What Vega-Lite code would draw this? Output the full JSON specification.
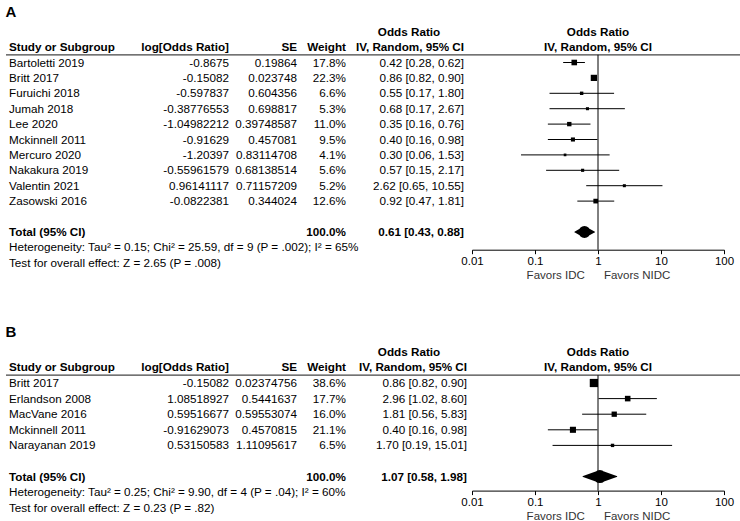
{
  "$schema": "https://vega.github.io/schema/vega-lite/v6.json",
  "config": {
    "font": "Liberation Sans",
    "view": {"stroke": null},
    "text": {"fontSize": 11.7, "baseline": "middle", "color": "black"},
    "title": {"anchor": "start", "fontSize": 15, "fontWeight": "bold", "color": "black", "offset": 4}
  },
  "datasets": {
    "A": [
      {"row": "h1", "kind": "header", "ci": "Odds Ratio"},
      {"row": "h2", "kind": "header", "study": "Study or Subgroup", "logor": "log[Odds Ratio]", "se": "SE", "weight": "Weight", "ci": "IV, Random, 95% CI"},
      {"row": "s1", "kind": "study", "study": "Bartoletti 2019", "logor": "-0.8675", "se": "0.19864", "weight": "17.8%", "ci": "0.42 [0.28, 0.62]", "or": 0.42, "lo": 0.28, "hi": 0.62, "w": 17.8},
      {"row": "s2", "kind": "study", "study": "Britt 2017", "logor": "-0.15082", "se": "0.023748", "weight": "22.3%", "ci": "0.86 [0.82, 0.90]", "or": 0.86, "lo": 0.82, "hi": 0.90, "w": 22.3},
      {"row": "s3", "kind": "study", "study": "Furuichi 2018", "logor": "-0.597837", "se": "0.604356", "weight": "6.6%", "ci": "0.55 [0.17, 1.80]", "or": 0.55, "lo": 0.17, "hi": 1.80, "w": 6.6},
      {"row": "s4", "kind": "study", "study": "Jumah 2018", "logor": "-0.38776553", "se": "0.698817", "weight": "5.3%", "ci": "0.68 [0.17, 2.67]", "or": 0.68, "lo": 0.17, "hi": 2.67, "w": 5.3},
      {"row": "s5", "kind": "study", "study": "Lee 2020", "logor": "-1.04982212", "se": "0.39748587", "weight": "11.0%", "ci": "0.35 [0.16, 0.76]", "or": 0.35, "lo": 0.16, "hi": 0.76, "w": 11.0},
      {"row": "s6", "kind": "study", "study": "Mckinnell 2011", "logor": "-0.91629", "se": "0.457081", "weight": "9.5%", "ci": "0.40 [0.16, 0.98]", "or": 0.40, "lo": 0.16, "hi": 0.98, "w": 9.5},
      {"row": "s7", "kind": "study", "study": "Mercuro 2020", "logor": "-1.20397", "se": "0.83114708", "weight": "4.1%", "ci": "0.30 [0.06, 1.53]", "or": 0.30, "lo": 0.06, "hi": 1.53, "w": 4.1},
      {"row": "s8", "kind": "study", "study": "Nakakura 2019", "logor": "-0.55961579", "se": "0.68138514", "weight": "5.6%", "ci": "0.57 [0.15, 2.17]", "or": 0.57, "lo": 0.15, "hi": 2.17, "w": 5.6},
      {"row": "s9", "kind": "study", "study": "Valentin 2021", "logor": "0.96141117", "se": "0.71157209", "weight": "5.2%", "ci": "2.62 [0.65, 10.55]", "or": 2.62, "lo": 0.65, "hi": 10.55, "w": 5.2},
      {"row": "s10", "kind": "study", "study": "Zasowski 2016", "logor": "-0.0822381", "se": "0.344024", "weight": "12.6%", "ci": "0.92 [0.47, 1.81]", "or": 0.92, "lo": 0.47, "hi": 1.81, "w": 12.6},
      {"row": "total", "kind": "total", "study": "Total (95% CI)", "weight": "100.0%", "ci": "0.61 [0.43, 0.88]", "or": 0.61, "lo": 0.43, "hi": 0.88},
      {"row": "het", "kind": "note", "study": "Heterogeneity: Tau² = 0.15; Chi² = 25.59, df = 9 (P = .002); I² = 65%"},
      {"row": "test", "kind": "note", "study": "Test for overall effect: Z = 2.65 (P = .008)"}
    ],
    "B": [
      {"row": "h1", "kind": "header", "ci": "Odds Ratio"},
      {"row": "h2", "kind": "header", "study": "Study or Subgroup", "logor": "log[Odds Ratio]", "se": "SE", "weight": "Weight", "ci": "IV, Random, 95% CI"},
      {"row": "s1", "kind": "study", "study": "Britt 2017", "logor": "-0.15082", "se": "0.02374756", "weight": "38.6%", "ci": "0.86 [0.82, 0.90]", "or": 0.86, "lo": 0.82, "hi": 0.90, "w": 38.6},
      {"row": "s2", "kind": "study", "study": "Erlandson 2008", "logor": "1.08518927", "se": "0.5441637", "weight": "17.7%", "ci": "2.96 [1.02, 8.60]", "or": 2.96, "lo": 1.02, "hi": 8.60, "w": 17.7},
      {"row": "s3", "kind": "study", "study": "MacVane 2016", "logor": "0.59516677", "se": "0.59553074", "weight": "16.0%", "ci": "1.81 [0.56, 5.83]", "or": 1.81, "lo": 0.56, "hi": 5.83, "w": 16.0},
      {"row": "s4", "kind": "study", "study": "Mckinnell 2011", "logor": "-0.91629073", "se": "0.4570815", "weight": "21.1%", "ci": "0.40 [0.16, 0.98]", "or": 0.40, "lo": 0.16, "hi": 0.98, "w": 21.1},
      {"row": "s5", "kind": "study", "study": "Narayanan 2019", "logor": "0.53150583", "se": "1.11095617", "weight": "6.5%", "ci": "1.70 [0.19, 15.01]", "or": 1.70, "lo": 0.19, "hi": 15.01, "w": 6.5},
      {"row": "total", "kind": "total", "study": "Total (95% CI)", "weight": "100.0%", "ci": "1.07 [0.58, 1.98]", "or": 1.07, "lo": 0.58, "hi": 1.98},
      {"row": "het", "kind": "note", "study": "Heterogeneity: Tau² = 0.25; Chi² = 9.90, df = 4 (P = .04); I² = 60%"},
      {"row": "test", "kind": "note", "study": "Test for overall effect: Z = 0.23 (P = .82)"}
    ]
  },
  "spacing": 44,
  "vconcat": [
    {
      "title": "A",
      "spacing": 0,
      "bounds": "flush",
      "hconcat": [
        {
          "width": 145, "height": {"step": 15.4}, "data": {"name": "A"},
          "encoding": {"y": {"field": "row", "type": "nominal", "scale": {"domain": ["h1","h2","s1","s2","s3","s4","s5","s6","s7","s8","s9","s10","gap","total","het","test"]}, "axis": null}},
          "layer": [
            {"data": {"values": [{}]}, "mark": {"type": "rule", "color": "#444", "strokeWidth": 1.2, "yOffset": 7.7}, "encoding": {"y": {"datum": "h2"}}},
            {"transform": [{"filter": "isValid(datum.study) && datum.kind!='header' && datum.kind!='total'"}], "mark": {"type": "text", "align": "left", "dx": 3},
             "encoding": {"x": {"value": 0}, "text": {"field": "study"}}},
            {"transform": [{"filter": "isValid(datum.study) && (datum.kind=='header' || datum.kind=='total')"}], "mark": {"type": "text", "align": "left", "dx": 3, "fontWeight": "bold"},
             "encoding": {"x": {"value": 0}, "text": {"field": "study"}}}
          ]
        },
        {
          "width": 78, "height": {"step": 15.4}, "data": {"name": "A"},
          "encoding": {"y": {"field": "row", "type": "nominal", "scale": {"domain": ["h1","h2","s1","s2","s3","s4","s5","s6","s7","s8","s9","s10","gap","total","het","test"]}, "axis": null}},
          "layer": [
            {"data": {"values": [{}]}, "mark": {"type": "rule", "color": "#444", "strokeWidth": 1.2, "yOffset": 7.7}, "encoding": {"y": {"datum": "h2"}}},
            {"transform": [{"filter": "isValid(datum.logor) && datum.kind!='header' && datum.kind!='total'"}], "mark": {"type": "text", "align": "right"},
             "encoding": {"x": {"value": "width"}, "text": {"field": "logor"}}},
            {"transform": [{"filter": "isValid(datum.logor) && (datum.kind=='header' || datum.kind=='total')"}], "mark": {"type": "text", "align": "right", "fontWeight": "bold"},
             "encoding": {"x": {"value": "width"}, "text": {"field": "logor"}}}
          ]
        },
        {
          "width": 68, "height": {"step": 15.4}, "data": {"name": "A"},
          "encoding": {"y": {"field": "row", "type": "nominal", "scale": {"domain": ["h1","h2","s1","s2","s3","s4","s5","s6","s7","s8","s9","s10","gap","total","het","test"]}, "axis": null}},
          "layer": [
            {"data": {"values": [{}]}, "mark": {"type": "rule", "color": "#444", "strokeWidth": 1.2, "yOffset": 7.7}, "encoding": {"y": {"datum": "h2"}}},
            {"transform": [{"filter": "isValid(datum.se) && datum.kind!='header' && datum.kind!='total'"}], "mark": {"type": "text", "align": "right"},
             "encoding": {"x": {"value": "width"}, "text": {"field": "se"}}},
            {"transform": [{"filter": "isValid(datum.se) && (datum.kind=='header' || datum.kind=='total')"}], "mark": {"type": "text", "align": "right", "fontWeight": "bold"},
             "encoding": {"x": {"value": "width"}, "text": {"field": "se"}}}
          ]
        },
        {
          "width": 49, "height": {"step": 15.4}, "data": {"name": "A"},
          "encoding": {"y": {"field": "row", "type": "nominal", "scale": {"domain": ["h1","h2","s1","s2","s3","s4","s5","s6","s7","s8","s9","s10","gap","total","het","test"]}, "axis": null}},
          "layer": [
            {"data": {"values": [{}]}, "mark": {"type": "rule", "color": "#444", "strokeWidth": 1.2, "yOffset": 7.7}, "encoding": {"y": {"datum": "h2"}}},
            {"transform": [{"filter": "isValid(datum.weight) && datum.kind!='header' && datum.kind!='total'"}], "mark": {"type": "text", "align": "right"},
             "encoding": {"x": {"value": "width"}, "text": {"field": "weight"}}},
            {"transform": [{"filter": "isValid(datum.weight) && (datum.kind=='header' || datum.kind=='total')"}], "mark": {"type": "text", "align": "right", "fontWeight": "bold"},
             "encoding": {"x": {"value": "width"}, "text": {"field": "weight"}}}
          ]
        },
        {
          "width": 126, "height": {"step": 15.4}, "data": {"name": "A"},
          "encoding": {"y": {"field": "row", "type": "nominal", "scale": {"domain": ["h1","h2","s1","s2","s3","s4","s5","s6","s7","s8","s9","s10","gap","total","het","test"]}, "axis": null}},
          "layer": [
            {"data": {"values": [{}]}, "mark": {"type": "rule", "color": "#444", "strokeWidth": 1.2, "yOffset": 7.7}, "encoding": {"y": {"datum": "h2"}}},
            {"transform": [{"filter": "datum.row=='h1'"}], "mark": {"type": "text", "align": "center", "fontWeight": "bold"},
             "encoding": {"text": {"field": "ci"}}},
            {"transform": [{"filter": "isValid(datum.ci) && datum.kind=='study'"}], "mark": {"type": "text", "align": "right", "dx": -8},
             "encoding": {"x": {"value": "width"}, "text": {"field": "ci"}}},
            {"transform": [{"filter": "datum.row=='h2' || datum.kind=='total'"}], "mark": {"type": "text", "align": "right", "dx": -8, "fontWeight": "bold"},
             "encoding": {"x": {"value": "width"}, "text": {"field": "ci"}}}
          ]
        },
        {
          "width": 252, "height": {"step": 15.4}, "data": {"name": "A"},
          "encoding": {"y": {"field": "row", "type": "nominal", "scale": {"domain": ["h1","h2","s1","s2","s3","s4","s5","s6","s7","s8","s9","s10","gap","total","het","test"]}, "axis": null}},
          "layer": [
            {"data": {"values": [{}]}, "mark": {"type": "rule", "color": "#444", "strokeWidth": 1.2, "yOffset": 7.7}, "encoding": {"y": {"datum": "h2"}, "x": {"datum": 0.01, "type": "quantitative"}, "x2": {"datum": 190}}},
            {"data": {"values": [{}]}, "mark": {"type": "rule", "color": "black", "yOffset": 7.7, "y2Offset": 2.4}, "encoding": {"x": {"datum": 1, "type": "quantitative"}, "y": {"datum": "h2"}, "y2": {"datum": "het"}}},
            {"transform": [{"filter": "datum.kind=='header'"}], "mark": {"type": "text", "align": "center", "fontWeight": "bold"},
             "encoding": {"x": {"datum": 1, "type": "quantitative"}, "text": {"field": "ci"}}},
            {"transform": [{"filter": "datum.kind=='study'"}], "mark": {"type": "rule", "color": "black"},
             "encoding": {
               "x": {"field": "lo", "type": "quantitative", "scale": {"type": "log", "domain": [0.01, 100], "nice": false},
                     "axis": {"values": [0.01, 0.1, 1, 10, 100], "format": ".2~f", "title": "Favors IDC\u00a0\u00a0\u00a0\u00a0\u00a0\u00a0Favors NIDC", "offset": -20.7, "grid": false, "domainColor": "black", "tickColor": "black", "tickSize": 4, "labelFontSize": 11.5, "labelColor": "black", "labelPadding": 2, "labelFlush": false, "titleFontSize": 11.5, "titleFontWeight": "normal", "titleColor": "#333", "titlePadding": 2}},
               "x2": {"field": "hi"}}},
            {"transform": [{"filter": "datum.kind=='study'"}], "mark": {"type": "point", "shape": "square", "filled": true, "color": "black", "opacity": 1},
             "encoding": {"x": {"field": "or", "type": "quantitative", "title": "Favors IDC\u00a0\u00a0\u00a0\u00a0\u00a0\u00a0Favors NIDC"},
               "size": {"field": "w", "type": "quantitative", "scale": {"domain": [0, 40], "range": [0, 70]}, "legend": null}}},
            {"transform": [{"filter": "datum.kind=='total'"}, {"fold": ["lo", "or", "hi"]}], "mark": {"type": "trail", "color": "black"},
             "encoding": {"x": {"field": "value", "type": "quantitative", "title": "Favors IDC\u00a0\u00a0\u00a0\u00a0\u00a0\u00a0Favors NIDC"},
               "size": {"condition": {"test": "datum.key=='or'", "value": 12}, "value": 0}}}
          ]
        }
      ]
    },
    {
      "title": "B",
      "spacing": 0,
      "bounds": "flush",
      "hconcat": [
        {
          "width": 145, "height": {"step": 15.6}, "data": {"name": "B"},
          "encoding": {"y": {"field": "row", "type": "nominal", "scale": {"domain": ["h1","h2","s1","s2","s3","s4","s5","gap","total","het","test"]}, "axis": null}},
          "layer": [
            {"data": {"values": [{}]}, "mark": {"type": "rule", "color": "#444", "strokeWidth": 1.2, "yOffset": 7.8}, "encoding": {"y": {"datum": "h2"}}},
            {"transform": [{"filter": "isValid(datum.study) && datum.kind!='header' && datum.kind!='total'"}], "mark": {"type": "text", "align": "left", "dx": 3},
             "encoding": {"x": {"value": 0}, "text": {"field": "study"}}},
            {"transform": [{"filter": "isValid(datum.study) && (datum.kind=='header' || datum.kind=='total')"}], "mark": {"type": "text", "align": "left", "dx": 3, "fontWeight": "bold"},
             "encoding": {"x": {"value": 0}, "text": {"field": "study"}}}
          ]
        },
        {
          "width": 78, "height": {"step": 15.6}, "data": {"name": "B"},
          "encoding": {"y": {"field": "row", "type": "nominal", "scale": {"domain": ["h1","h2","s1","s2","s3","s4","s5","gap","total","het","test"]}, "axis": null}},
          "layer": [
            {"data": {"values": [{}]}, "mark": {"type": "rule", "color": "#444", "strokeWidth": 1.2, "yOffset": 7.8}, "encoding": {"y": {"datum": "h2"}}},
            {"transform": [{"filter": "isValid(datum.logor) && datum.kind!='header' && datum.kind!='total'"}], "mark": {"type": "text", "align": "right"},
             "encoding": {"x": {"value": "width"}, "text": {"field": "logor"}}},
            {"transform": [{"filter": "isValid(datum.logor) && (datum.kind=='header' || datum.kind=='total')"}], "mark": {"type": "text", "align": "right", "fontWeight": "bold"},
             "encoding": {"x": {"value": "width"}, "text": {"field": "logor"}}}
          ]
        },
        {
          "width": 68, "height": {"step": 15.6}, "data": {"name": "B"},
          "encoding": {"y": {"field": "row", "type": "nominal", "scale": {"domain": ["h1","h2","s1","s2","s3","s4","s5","gap","total","het","test"]}, "axis": null}},
          "layer": [
            {"data": {"values": [{}]}, "mark": {"type": "rule", "color": "#444", "strokeWidth": 1.2, "yOffset": 7.8}, "encoding": {"y": {"datum": "h2"}}},
            {"transform": [{"filter": "isValid(datum.se) && datum.kind!='header' && datum.kind!='total'"}], "mark": {"type": "text", "align": "right"},
             "encoding": {"x": {"value": "width"}, "text": {"field": "se"}}},
            {"transform": [{"filter": "isValid(datum.se) && (datum.kind=='header' || datum.kind=='total')"}], "mark": {"type": "text", "align": "right", "fontWeight": "bold"},
             "encoding": {"x": {"value": "width"}, "text": {"field": "se"}}}
          ]
        },
        {
          "width": 49, "height": {"step": 15.6}, "data": {"name": "B"},
          "encoding": {"y": {"field": "row", "type": "nominal", "scale": {"domain": ["h1","h2","s1","s2","s3","s4","s5","gap","total","het","test"]}, "axis": null}},
          "layer": [
            {"data": {"values": [{}]}, "mark": {"type": "rule", "color": "#444", "strokeWidth": 1.2, "yOffset": 7.8}, "encoding": {"y": {"datum": "h2"}}},
            {"transform": [{"filter": "isValid(datum.weight) && datum.kind!='header' && datum.kind!='total'"}], "mark": {"type": "text", "align": "right"},
             "encoding": {"x": {"value": "width"}, "text": {"field": "weight"}}},
            {"transform": [{"filter": "isValid(datum.weight) && (datum.kind=='header' || datum.kind=='total')"}], "mark": {"type": "text", "align": "right", "fontWeight": "bold"},
             "encoding": {"x": {"value": "width"}, "text": {"field": "weight"}}}
          ]
        },
        {
          "width": 126, "height": {"step": 15.6}, "data": {"name": "B"},
          "encoding": {"y": {"field": "row", "type": "nominal", "scale": {"domain": ["h1","h2","s1","s2","s3","s4","s5","gap","total","het","test"]}, "axis": null}},
          "layer": [
            {"data": {"values": [{}]}, "mark": {"type": "rule", "color": "#444", "strokeWidth": 1.2, "yOffset": 7.8}, "encoding": {"y": {"datum": "h2"}}},
            {"transform": [{"filter": "datum.row=='h1'"}], "mark": {"type": "text", "align": "center", "fontWeight": "bold"},
             "encoding": {"text": {"field": "ci"}}},
            {"transform": [{"filter": "isValid(datum.ci) && datum.kind=='study'"}], "mark": {"type": "text", "align": "right", "dx": -5},
             "encoding": {"x": {"value": "width"}, "text": {"field": "ci"}}},
            {"transform": [{"filter": "datum.row=='h2' || datum.kind=='total'"}], "mark": {"type": "text", "align": "right", "dx": -5, "fontWeight": "bold"},
             "encoding": {"x": {"value": "width"}, "text": {"field": "ci"}}}
          ]
        },
        {
          "width": 252, "height": {"step": 15.6}, "data": {"name": "B"},
          "encoding": {"y": {"field": "row", "type": "nominal", "scale": {"domain": ["h1","h2","s1","s2","s3","s4","s5","gap","total","het","test"]}, "axis": null}},
          "layer": [
            {"data": {"values": [{}]}, "mark": {"type": "rule", "color": "#444", "strokeWidth": 1.2, "yOffset": 7.8}, "encoding": {"y": {"datum": "h2"}, "x": {"datum": 0.01, "type": "quantitative"}, "x2": {"datum": 190}}},
            {"data": {"values": [{}]}, "mark": {"type": "rule", "color": "black", "yOffset": 7.8, "y2Offset": -1.6}, "encoding": {"x": {"datum": 1, "type": "quantitative"}, "y": {"datum": "h2"}, "y2": {"datum": "het"}}},
            {"transform": [{"filter": "datum.kind=='header'"}], "mark": {"type": "text", "align": "center", "fontWeight": "bold"},
             "encoding": {"x": {"datum": 1, "type": "quantitative"}, "text": {"field": "ci"}}},
            {"transform": [{"filter": "datum.kind=='study'"}], "mark": {"type": "rule", "color": "black"},
             "encoding": {
               "x": {"field": "lo", "type": "quantitative", "scale": {"type": "log", "domain": [0.01, 100], "nice": false},
                     "axis": {"values": [0.01, 0.1, 1, 10, 100], "format": ".2~f", "title": "Favors IDC\u00a0\u00a0\u00a0\u00a0\u00a0\u00a0Favors NIDC", "offset": -25, "grid": false, "domainColor": "black", "tickColor": "black", "tickSize": 4, "labelFontSize": 11.5, "labelColor": "black", "labelPadding": 2, "labelFlush": false, "titleFontSize": 11.5, "titleFontWeight": "normal", "titleColor": "#333", "titlePadding": 2}},
               "x2": {"field": "hi"}}},
            {"transform": [{"filter": "datum.kind=='study'"}], "mark": {"type": "point", "shape": "square", "filled": true, "color": "black", "opacity": 1},
             "encoding": {"x": {"field": "or", "type": "quantitative", "title": "Favors IDC\u00a0\u00a0\u00a0\u00a0\u00a0\u00a0Favors NIDC"},
               "size": {"field": "w", "type": "quantitative", "scale": {"domain": [0, 40], "range": [0, 70]}, "legend": null}}},
            {"transform": [{"filter": "datum.kind=='total'"}, {"fold": ["lo", "or", "hi"]}], "mark": {"type": "trail", "color": "black"},
             "encoding": {"x": {"field": "value", "type": "quantitative", "title": "Favors IDC\u00a0\u00a0\u00a0\u00a0\u00a0\u00a0Favors NIDC"},
               "size": {"condition": {"test": "datum.key=='or'", "value": 13}, "value": 0}}}
          ]
        }
      ]
    }
  ]
}
